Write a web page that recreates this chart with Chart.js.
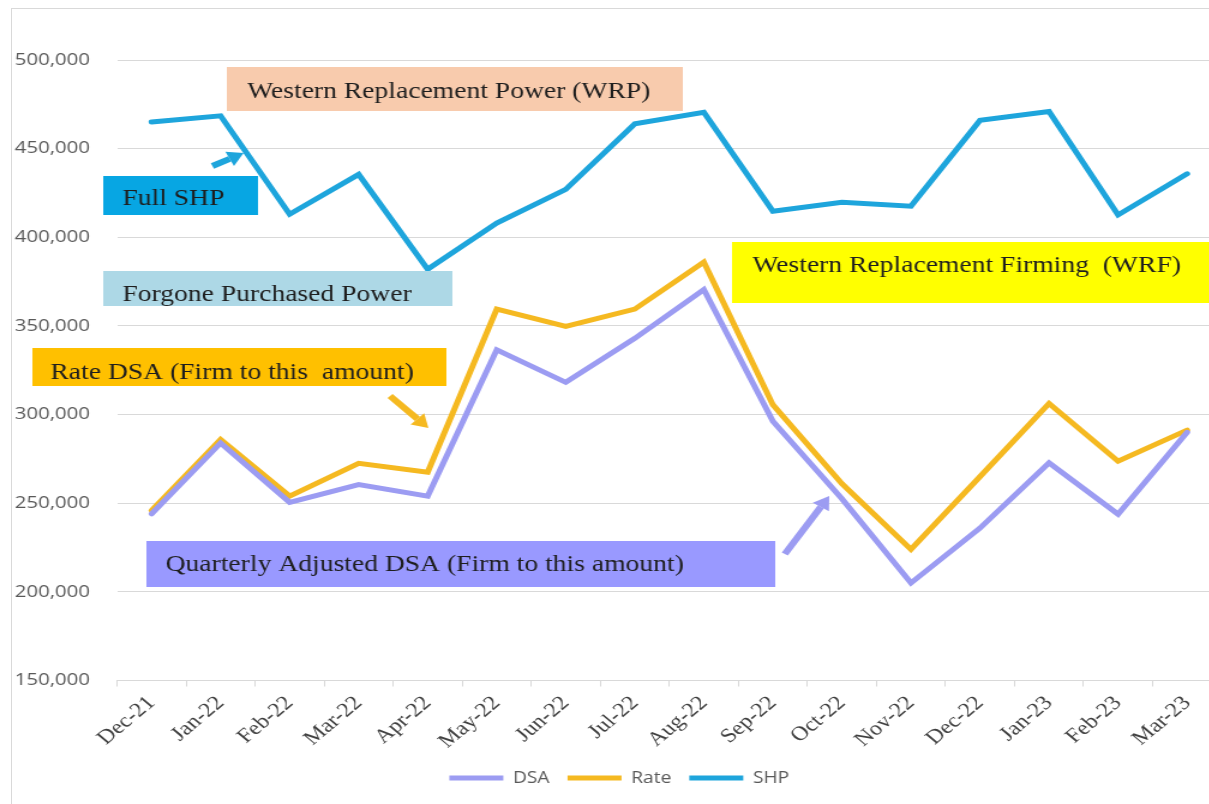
<!DOCTYPE html>
<html>
<head>
<meta charset="utf-8">
<script src="https://cdn.jsdelivr.net/npm/chart.js@4.4.1/dist/chart.umd.min.js"></script>
<style>
html,body{margin:0;padding:0;background:#fff;overflow:hidden;width:1209px;height:804px;}
#frame{position:absolute;left:11px;top:8px;width:1400px;height:900px;border-left:1px solid #d9d9d9;border-top:1px solid #d9d9d9;}
#wrap{position:absolute;left:0;top:0;width:1030px;height:804px;transform:scaleX(1.2);transform-origin:0 0;}
canvas{display:block;}
</style>
</head>
<body>
<div id="frame"></div>
<div id="wrap"><canvas id="c" width="1030" height="804"></canvas></div>
<script>
// ---- data ----
const categories = ["Dec-21","Jan-22","Feb-22","Mar-22","Apr-22","May-22","Jun-22","Jul-22","Aug-22","Sep-22","Oct-22","Nov-22","Dec-22","Jan-23","Feb-23","Mar-23"];
const dsaValues  = [244000, 284000, 250500, 260500, 254000, 336500, 318200, 343000, 370500, 296200, 252500, 205000, 236000, 272800, 243800, 290000];
const rateValues = [245800, 286000, 254000, 272500, 267500, 359500, 349800, 359500, 386000, 305500, 261000, 224000, 265000, 306300, 273700, 291200];
const shpValues  = [465000, 468500, 413000, 435500, 382000, 408000, 427000, 464000, 470500, 414700, 419800, 417500, 466000, 471000, 412600, 435800];
const seriesNames = ["DSA", "Rate", "SHP"];
const yMin = 150000, yMax = 500000, yStep = 50000;

// ---- annotation callouts (canvas space, before horizontal stretch) ----
const calloutBoxes = [
  {text: "Western Replacement Power (WRP)", x0: 189, x1: 569, y0: 67, y1: 111, base: 98, tx: 206, fill: "#f8cbad"},
  {text: "Full SHP", x0: 86, x1: 215, y0: 176, y1: 215, base: 205, tx: 102, fill: "#07a6e3"},
  {text: "Forgone Purchased Power", x0: 86, x1: 377, y0: 271, y1: 306, base: 301, tx: 102, fill: "#add8e6"},
  {text: "Rate DSA (Firm to this  amount)", x0: 27, x1: 372, y0: 348, y1: 386, base: 379, tx: 42, fill: "#ffc000"},
  {text: "Western Replacement Firming  (WRF)", x0: 610, x1: 1012, y0: 242, y1: 303, base: 272, tx: 627, fill: "#ffff00"},
  {text: "Quarterly Adjusted DSA (Firm to this amount)", x0: 122, x1: 646, y0: 541, y1: 587, base: 571, tx: 138, fill: "#9999ff"}
];
const calloutArrows = [
  {x1: 177, y1: 166, x2: 203, y2: 153, color: "#1ea5dc"},
  {x1: 325, y1: 396, x2: 357, y2: 428, color: "#f5b921"},
  {x1: 654, y1: 554, x2: 691, y2: 496, color: "#9c9cf2"}
];

function drawArrow(ctx, a) {
  const ang = Math.atan2(a.y2 - a.y1, a.x2 - a.x1);
  const headLen = 13, headW = 16;
  const bx = a.x2 - Math.cos(ang) * headLen, by = a.y2 - Math.sin(ang) * headLen;
  ctx.save();
  ctx.strokeStyle = a.color; ctx.fillStyle = a.color;
  ctx.lineWidth = 6; ctx.lineCap = "butt";
  ctx.beginPath(); ctx.moveTo(a.x1, a.y1); ctx.lineTo(bx, by); ctx.stroke();
  const px = -Math.sin(ang) * headW / 2, py = Math.cos(ang) * headW / 2;
  ctx.beginPath();
  ctx.moveTo(a.x2, a.y2);
  ctx.lineTo(bx + px, by + py);
  ctx.lineTo(bx - px, by - py);
  ctx.closePath(); ctx.fill();
  ctx.restore();
}

const calloutPlugin = {
  id: "callouts",
  afterLayout(chart) {
    // nudge the centred legend to match the reference's legend position
    if (chart.legend) { chart.legend.left += 7; chart.legend.right += 7; }
  },
  afterDraw(chart) {
    const ctx = chart.ctx;
    ctx.save();
    calloutBoxes.forEach(b => {
      ctx.fillStyle = b.fill;
      ctx.fillRect(b.x0, b.y0, b.x1 - b.x0, b.y1 - b.y0);
      ctx.fillStyle = "#1e1e1e";
      ctx.font = '23px "Liberation Serif", "Times New Roman", serif';
      ctx.textBaseline = "alphabetic";
      ctx.textAlign = "left";
      ctx.fillText(b.text, b.tx, b.base);
    });
    calloutArrows.forEach(a => drawArrow(ctx, a));
    ctx.restore();
  }
};

const colors = {DSA: "#9c9cf2", Rate: "#f5b921", SHP: "#1ea5dc"};
const valuesBySeries = {DSA: dsaValues, Rate: rateValues, SHP: shpValues};

new Chart(document.getElementById("c"), {
  type: "line",
  data: {
    labels: categories,
    datasets: seriesNames.map(n => ({
      label: n,
      data: valuesBySeries[n],
      borderColor: colors[n],
      backgroundColor: colors[n],
      borderWidth: 5,
      borderCapStyle: "round",
      pointRadius: 0,
      pointHoverRadius: 0,
      tension: 0,
      fill: false
    }))
  },
  options: {
    responsive: false,
    animation: false,
    devicePixelRatio: 1,
    layout: {padding: {top: 60, right: 12, bottom: 8, left: 0}},
    plugins: {
      legend: {
        position: "bottom",
        labels: {
          usePointStyle: true,
          pointStyle: "line",
          pointStyleWidth: 45,
          boxHeight: 16,
          padding: 15,
          color: "#595959",
          font: {family: '"Open Sans", sans-serif', size: 16}
        }
      },
      tooltip: {enabled: false}
    },
    scales: {
      x: {
        offset: true,
        grid: {offset: true, drawOnChartArea: false, drawTicks: true, tickLength: 6, color: "#d9d9d9"},
        border: {display: true, color: "#d9d9d9", width: 1},
        ticks: {
          maxRotation: 45, minRotation: 45, autoSkip: false, padding: 5,
          color: "#404040",
          font: {family: '"Liberation Serif", "Times New Roman", serif', size: 20}
        },
        afterFit(scale) { scale.height = 74.5; }
      },
      y: {
        min: yMin, max: yMax,
        grid: {color: "#d9d9d9", lineWidth: 1, drawTicks: false},
        border: {display: false},
        ticks: {
          stepSize: yStep,
          padding: 22.5,
          color: "#595959",
          font: {family: '"Open Sans", sans-serif', size: 17},
          callback: v => v.toLocaleString("en-US")
        },
        afterFit(scale) { scale.width = 97.5; }
      }
    }
  },
  plugins: [calloutPlugin]
});
</script>
</body>
</html>
